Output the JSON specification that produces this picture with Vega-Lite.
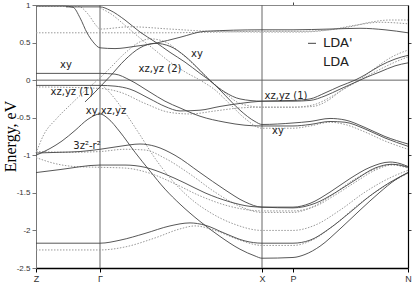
{
 "$schema": "https://vega.github.io/schema/vega-lite/v6.json",
 "width": 372, "height": 263,
 "autosize": {"type": "none"},
 "padding": {"left": 36, "top": 5, "right": 7, "bottom": 16},
 "background": "white",
 "config": {"view": {"stroke": null}, "axis": {"grid": false}},
 "resolve": {"axis": {"x": "independent", "y": "independent"}},
 "datasets": {
  "solid": [
   {"b":"S1","k":0,"E":0.985},{"b":"S1","k":28,"E":0.985},{"b":"S1","k":37,"E":0.97},{"b":"S1","k":44,"E":0.83},{"b":"S1","k":51,"E":0.63},{"b":"S1","k":57,"E":0.51},{"b":"S1","k":64,"E":0.43},{"b":"S1","k":79,"E":0.42},{"b":"S1","k":99,"E":0.45},{"b":"S1","k":119,"E":0.49},{"b":"S1","k":144,"E":0.57},{"b":"S1","k":169,"E":0.65},{"b":"S1","k":226,"E":0.67},{"b":"S1","k":257,"E":0.67},{"b":"S1","k":294,"E":0.68},{"b":"S1","k":324,"E":0.69},{"b":"S1","k":349,"E":0.67},{"b":"S1","k":372,"E":0.63},
   {"b":"S2","k":30,"E":0.975},{"b":"S2","k":64,"E":0.975},{"b":"S2","k":74,"E":0.93},{"b":"S2","k":89,"E":0.8},{"b":"S2","k":104,"E":0.64},{"b":"S2","k":119,"E":0.51},{"b":"S2","k":134,"E":0.37},{"b":"S2","k":149,"E":0.24},{"b":"S2","k":164,"E":0.09},{"b":"S2","k":177,"E":-0.04},{"b":"S2","k":189,"E":-0.2},{"b":"S2","k":204,"E":-0.4},{"b":"S2","k":219,"E":-0.55},{"b":"S2","k":226,"E":-0.59},{"b":"S2","k":257,"E":-0.57},{"b":"S2","k":274,"E":-0.55},{"b":"S2","k":294,"E":-0.51},{"b":"S2","k":309,"E":-0.53},{"b":"S2","k":329,"E":-0.63},{"b":"S2","k":349,"E":-0.75},{"b":"S2","k":372,"E":-0.85},
   {"b":"S3","k":49,"E":-0.29},{"b":"S3","k":56,"E":-0.2},{"b":"S3","k":64,"E":-0.09},{"b":"S3","k":74,"E":0.05},{"b":"S3","k":89,"E":0.27},{"b":"S3","k":104,"E":0.43},{"b":"S3","k":119,"E":0.49},{"b":"S3","k":134,"E":0.45},{"b":"S3","k":149,"E":0.32},{"b":"S3","k":164,"E":0.13},{"b":"S3","k":176,"E":-0.03},{"b":"S3","k":189,"E":-0.16},{"b":"S3","k":204,"E":-0.25},{"b":"S3","k":226,"E":-0.28},{"b":"S3","k":257,"E":-0.28},{"b":"S3","k":274,"E":-0.27},{"b":"S3","k":289,"E":-0.21},{"b":"S3","k":304,"E":-0.12},{"b":"S3","k":319,"E":-0.03},{"b":"S3","k":329,"E":0.03},{"b":"S3","k":344,"E":0.11},{"b":"S3","k":359,"E":0.19},{"b":"S3","k":372,"E":0.23},
   {"b":"S4","k":0,"E":0.09},{"b":"S4","k":64,"E":0.09},{"b":"S4","k":79,"E":0.08},{"b":"S4","k":94,"E":0},{"b":"S4","k":114,"E":-0.16},{"b":"S4","k":129,"E":-0.28},{"b":"S4","k":144,"E":-0.37},{"b":"S4","k":164,"E":-0.48},{"b":"S4","k":189,"E":-0.56},{"b":"S4","k":209,"E":-0.6},{"b":"S4","k":226,"E":-0.61},{"b":"S4","k":257,"E":-0.61},{"b":"S4","k":274,"E":-0.59},{"b":"S4","k":294,"E":-0.55},{"b":"S4","k":309,"E":-0.56},{"b":"S4","k":329,"E":-0.65},{"b":"S4","k":349,"E":-0.77},{"b":"S4","k":372,"E":-0.88},
   {"b":"S5","k":0,"E":-0.07},{"b":"S5","k":24,"E":-0.07},{"b":"S5","k":64,"E":-0.07},{"b":"S5","k":79,"E":-0.08},{"b":"S5","k":94,"E":-0.12},{"b":"S5","k":114,"E":-0.25},{"b":"S5","k":129,"E":-0.35},{"b":"S5","k":144,"E":-0.41},{"b":"S5","k":164,"E":-0.4},{"b":"S5","k":184,"E":-0.35},{"b":"S5","k":204,"E":-0.31},{"b":"S5","k":226,"E":-0.28},{"b":"S5","k":257,"E":-0.27},{"b":"S5","k":274,"E":-0.25},{"b":"S5","k":289,"E":-0.17},{"b":"S5","k":304,"E":-0.08},{"b":"S5","k":319,"E":0},{"b":"S5","k":329,"E":0.07},{"b":"S5","k":344,"E":0.19},{"b":"S5","k":359,"E":0.28},{"b":"S5","k":372,"E":0.33},
   {"b":"S6","k":0,"E":-1.0},{"b":"S6","k":14,"E":-0.91},{"b":"S6","k":26,"E":-0.81},{"b":"S6","k":39,"E":-0.67},{"b":"S6","k":52,"E":-0.52},{"b":"S6","k":64,"E":-0.45},{"b":"S6","k":72,"E":-0.51},{"b":"S6","k":84,"E":-0.69},{"b":"S6","k":99,"E":-0.96},{"b":"S6","k":114,"E":-1.21},{"b":"S6","k":129,"E":-1.45},{"b":"S6","k":144,"E":-1.65},{"b":"S6","k":164,"E":-1.88},{"b":"S6","k":184,"E":-2.08},{"b":"S6","k":204,"E":-2.25},{"b":"S6","k":219,"E":-2.34},{"b":"S6","k":226,"E":-2.37},{"b":"S6","k":257,"E":-2.36},{"b":"S6","k":269,"E":-2.32},{"b":"S6","k":284,"E":-2.21},{"b":"S6","k":304,"E":-1.98},{"b":"S6","k":324,"E":-1.73},{"b":"S6","k":344,"E":-1.49},{"b":"S6","k":359,"E":-1.33},{"b":"S6","k":372,"E":-1.23},
   {"b":"S7","k":0,"E":-0.97},{"b":"S7","k":24,"E":-0.96},{"b":"S7","k":44,"E":-0.95},{"b":"S7","k":64,"E":-0.92},{"b":"S7","k":84,"E":-0.88},{"b":"S7","k":104,"E":-0.85},{"b":"S7","k":119,"E":-0.88},{"b":"S7","k":139,"E":-1.0},{"b":"S7","k":164,"E":-1.23},{"b":"S7","k":189,"E":-1.46},{"b":"S7","k":209,"E":-1.62},{"b":"S7","k":226,"E":-1.69},{"b":"S7","k":257,"E":-1.69},{"b":"S7","k":274,"E":-1.64},{"b":"S7","k":294,"E":-1.49},{"b":"S7","k":314,"E":-1.31},{"b":"S7","k":334,"E":-1.16},{"b":"S7","k":354,"E":-1.09},{"b":"S7","k":364,"E":-1.11},{"b":"S7","k":372,"E":-1.15},
   {"b":"S8","k":0,"E":-1.23},{"b":"S8","k":24,"E":-1.19},{"b":"S8","k":64,"E":-1.13},{"b":"S8","k":89,"E":-1.13},{"b":"S8","k":109,"E":-1.16},{"b":"S8","k":129,"E":-1.25},{"b":"S8","k":149,"E":-1.37},{"b":"S8","k":169,"E":-1.5},{"b":"S8","k":194,"E":-1.62},{"b":"S8","k":214,"E":-1.68},{"b":"S8","k":226,"E":-1.69},{"b":"S8","k":257,"E":-1.7},{"b":"S8","k":279,"E":-1.64},{"b":"S8","k":299,"E":-1.5},{"b":"S8","k":319,"E":-1.33},{"b":"S8","k":339,"E":-1.17},{"b":"S8","k":356,"E":-1.12},{"b":"S8","k":372,"E":-1.16},
   {"b":"S9","k":0,"E":-2.17},{"b":"S9","k":64,"E":-2.17},{"b":"S9","k":84,"E":-2.13},{"b":"S9","k":109,"E":-2.04},{"b":"S9","k":134,"E":-1.94},{"b":"S9","k":154,"E":-1.9},{"b":"S9","k":169,"E":-1.93},{"b":"S9","k":189,"E":-2.04},{"b":"S9","k":209,"E":-2.14},{"b":"S9","k":226,"E":-2.17},{"b":"S9","k":257,"E":-2.17},{"b":"S9","k":274,"E":-2.13},{"b":"S9","k":294,"E":-1.97},{"b":"S9","k":314,"E":-1.76},{"b":"S9","k":334,"E":-1.54},{"b":"S9","k":354,"E":-1.36},{"b":"S9","k":372,"E":-1.23}
  ],
  "dotted": [
   {"b":"D1","k":0,"E":0.63},{"b":"D1","k":64,"E":0.63},{"b":"D1","k":124,"E":0.63},{"b":"D1","k":184,"E":0.64},{"b":"D1","k":226,"E":0.65},{"b":"D1","k":264,"E":0.65},{"b":"D1","k":294,"E":0.67},{"b":"D1","k":314,"E":0.71},{"b":"D1","k":334,"E":0.77},{"b":"D1","k":354,"E":0.8},{"b":"D1","k":372,"E":0.8},
   {"b":"D2","k":0,"E":0.985},{"b":"D2","k":42,"E":0.985},{"b":"D2","k":52,"E":0.88},{"b":"D2","k":60,"E":0.73},{"b":"D2","k":64,"E":0.68},{"b":"D2","k":94,"E":0.71},{"b":"D2","k":134,"E":0.68},{"b":"D2","k":174,"E":0.65},{"b":"D2","k":226,"E":0.64},{"b":"D2","k":264,"E":0.64},{"b":"D2","k":294,"E":0.67},{"b":"D2","k":319,"E":0.73},{"b":"D2","k":344,"E":0.77},{"b":"D2","k":372,"E":0.75},
   {"b":"D3","k":64,"E":0.96},{"b":"D3","k":74,"E":0.89},{"b":"D3","k":89,"E":0.73},{"b":"D3","k":104,"E":0.56},{"b":"D3","k":119,"E":0.4},{"b":"D3","k":134,"E":0.24},{"b":"D3","k":149,"E":0.11},{"b":"D3","k":164,"E":0},{"b":"D3","k":179,"E":-0.13},{"b":"D3","k":194,"E":-0.32},{"b":"D3","k":209,"E":-0.51},{"b":"D3","k":226,"E":-0.64},{"b":"D3","k":257,"E":-0.64},{"b":"D3","k":274,"E":-0.61},{"b":"D3","k":294,"E":-0.56},{"b":"D3","k":309,"E":-0.59},{"b":"D3","k":329,"E":-0.69},{"b":"D3","k":349,"E":-0.81},{"b":"D3","k":372,"E":-0.92},
   {"b":"D4","k":0,"E":-0.97},{"b":"D4","k":8,"E":-0.72},{"b":"D4","k":20,"E":-0.52},{"b":"D4","k":35,"E":-0.32},{"b":"D4","k":50,"E":-0.13},{"b":"D4","k":64,"E":0.03},{"b":"D4","k":74,"E":0.16},{"b":"D4","k":89,"E":0.36},{"b":"D4","k":104,"E":0.51},{"b":"D4","k":114,"E":0.55},{"b":"D4","k":129,"E":0.51},{"b":"D4","k":144,"E":0.37},{"b":"D4","k":159,"E":0.19},{"b":"D4","k":174,"E":0},{"b":"D4","k":189,"E":-0.17},{"b":"D4","k":204,"E":-0.31},{"b":"D4","k":226,"E":-0.36},{"b":"D4","k":257,"E":-0.36},{"b":"D4","k":277,"E":-0.35},{"b":"D4","k":292,"E":-0.27},{"b":"D4","k":306,"E":-0.13},{"b":"D4","k":324,"E":0.01},{"b":"D4","k":339,"E":0.16},{"b":"D4","k":356,"E":0.31},{"b":"D4","k":372,"E":0.4},
   {"b":"D5","k":0,"E":-0.09},{"b":"D5","k":64,"E":-0.11},{"b":"D5","k":84,"E":-0.16},{"b":"D5","k":109,"E":-0.31},{"b":"D5","k":134,"E":-0.43},{"b":"D5","k":154,"E":-0.45},{"b":"D5","k":179,"E":-0.41},{"b":"D5","k":204,"E":-0.37},{"b":"D5","k":226,"E":-0.36},{"b":"D5","k":257,"E":-0.36},{"b":"D5","k":277,"E":-0.33},{"b":"D5","k":294,"E":-0.23},{"b":"D5","k":309,"E":-0.11},{"b":"D5","k":324,"E":0},{"b":"D5","k":342,"E":0.13},{"b":"D5","k":359,"E":0.24},{"b":"D5","k":372,"E":0.31},
   {"b":"D6","k":64,"E":-0.04},{"b":"D6","k":74,"E":-0.17},{"b":"D6","k":89,"E":-0.43},{"b":"D6","k":104,"E":-0.73},{"b":"D6","k":119,"E":-1.04},{"b":"D6","k":134,"E":-1.3},{"b":"D6","k":154,"E":-1.57},{"b":"D6","k":174,"E":-1.76},{"b":"D6","k":199,"E":-1.92},{"b":"D6","k":226,"E":-2.0},{"b":"D6","k":257,"E":-2.0},{"b":"D6","k":279,"E":-1.93},{"b":"D6","k":304,"E":-1.73},{"b":"D6","k":329,"E":-1.49},{"b":"D6","k":354,"E":-1.3},{"b":"D6","k":372,"E":-1.2},
   {"b":"D7","k":0,"E":-0.95},{"b":"D7","k":34,"E":-0.96},{"b":"D7","k":64,"E":-0.95},{"b":"D7","k":89,"E":-0.92},{"b":"D7","k":109,"E":-0.93},{"b":"D7","k":129,"E":-1.04},{"b":"D7","k":154,"E":-1.25},{"b":"D7","k":179,"E":-1.49},{"b":"D7","k":204,"E":-1.68},{"b":"D7","k":226,"E":-1.76},{"b":"D7","k":257,"E":-1.76},{"b":"D7","k":276,"E":-1.69},{"b":"D7","k":296,"E":-1.53},{"b":"D7","k":316,"E":-1.34},{"b":"D7","k":336,"E":-1.2},{"b":"D7","k":356,"E":-1.12},{"b":"D7","k":372,"E":-1.15},
   {"b":"D8","k":0,"E":-1.03},{"b":"D8","k":19,"E":-1.11},{"b":"D8","k":39,"E":-1.15},{"b":"D8","k":64,"E":-1.16},{"b":"D8","k":89,"E":-1.17},{"b":"D8","k":114,"E":-1.24},{"b":"D8","k":139,"E":-1.38},{"b":"D8","k":164,"E":-1.54},{"b":"D8","k":194,"E":-1.68},{"b":"D8","k":226,"E":-1.74},{"b":"D8","k":257,"E":-1.74},{"b":"D8","k":279,"E":-1.68},{"b":"D8","k":299,"E":-1.53},{"b":"D8","k":319,"E":-1.36},{"b":"D8","k":339,"E":-1.2},{"b":"D8","k":356,"E":-1.13},{"b":"D8","k":372,"E":-1.17},
   {"b":"D9","k":0,"E":-2.26},{"b":"D9","k":64,"E":-2.26},{"b":"D9","k":89,"E":-2.22},{"b":"D9","k":119,"E":-2.1},{"b":"D9","k":144,"E":-1.98},{"b":"D9","k":159,"E":-1.94},{"b":"D9","k":179,"E":-2.0},{"b":"D9","k":204,"E":-2.13},{"b":"D9","k":226,"E":-2.2},{"b":"D9","k":257,"E":-2.2},{"b":"D9","k":276,"E":-2.13},{"b":"D9","k":299,"E":-1.92},{"b":"D9","k":322,"E":-1.66},{"b":"D9","k":344,"E":-1.45},{"b":"D9","k":372,"E":-1.24}
  ]
 },
 "layer": [
  {
   "data": {"values": [{"k": 64}, {"k": 226}]},
   "mark": {"type": "rule", "color": "#666", "strokeWidth": 1},
   "encoding": {"x": {"field": "k", "type": "quantitative", "axis": null}}
  },
  {
   "data": {"values": [{"E": 0}]},
   "mark": {"type": "rule", "color": "#666", "strokeWidth": 1},
   "encoding": {"y": {"field": "E", "type": "quantitative", "axis": null}}
  },
  {
   "data": {"name": "dotted"},
   "mark": {"type": "line", "interpolate": "monotone", "strokeWidth": 1, "color": "#999", "strokeDash": [1.5, 1.5]},
   "encoding": {
    "x": {"field": "k", "type": "quantitative", "axis": null},
    "y": {"field": "E", "type": "quantitative", "axis": null},
    "detail": {"field": "b"}
   }
  },
  {
   "data": {"name": "solid"},
   "mark": {"type": "line", "interpolate": "monotone", "strokeWidth": 0.9, "color": "#444"},
   "encoding": {
    "x": {"field": "k", "type": "quantitative",
     "scale": {"domain": [0, 372], "nice": false, "zero": false},
     "axis": {"orient": "bottom", "values": [0, 64, 226, 257, 372], "title": null,
      "labelExpr": "datum.value == 0 ? 'Z' : datum.value == 64 ? 'Γ' : datum.value == 226 ? 'X' : datum.value == 257 ? 'P' : 'N'",
      "domainColor": "#000", "domainWidth": 1.5, "tickColor": "#000", "tickSize": 4,
      "labelFont": "Liberation Sans", "labelFontSize": 9, "labelColor": "#333", "labelPadding": 2, "labelFlush": false}},
    "y": {"field": "E", "type": "quantitative",
     "scale": {"domain": [-2.5, 1], "nice": false, "zero": false},
     "axis": {"orient": "left", "values": [1, 0.5, 0, -0.5, -1, -1.5, -2, -2.5],
      "labelExpr": "datum.value + ''",
      "domainColor": "#777", "tickColor": "#777", "tickSize": 4,
      "labelFont": "Liberation Sans", "labelFontSize": 8, "labelColor": "#333", "labelPadding": 2,
      "title": "Energy, eV", "titleFont": "Liberation Serif", "titleFontSize": 16, "titleFontWeight": "normal", "titleColor": "#000",
      "titleX": -26, "titleY": 131, "titleAngle": -90, "titleAlign": "center", "titleBaseline": "middle"}},
    "detail": {"field": "b"}
   }
  },
  {
   "data": {"values": [
    {"k": 30, "E": 0.2, "s": "xy"},
    {"k": 36, "E": -0.16, "s": "xz,yz (1)"},
    {"k": 70, "E": -0.41, "s": "xy,xz,yz"},
    {"k": 51, "E": -0.87, "s": "3z²-r²"},
    {"k": 124, "E": 0.15, "s": "xz,yz (2)"},
    {"k": 161, "E": 0.35, "s": "xy"},
    {"k": 250, "E": -0.21, "s": "xz,yz (1)"},
    {"k": 242, "E": -0.68, "s": "xy"}
   ]},
   "mark": {"type": "text", "font": "DejaVu Sans", "fontSize": 10, "color": "#222", "align": "center", "baseline": "middle"},
   "encoding": {
    "x": {"field": "k", "type": "quantitative", "axis": null},
    "y": {"field": "E", "type": "quantitative", "axis": null},
    "text": {"field": "s"}
   }
  },
  {
   "data": {"values": [{"k": 272, "k2": 280, "E": 0.49}]},
   "mark": {"type": "rule", "color": "#444", "strokeWidth": 1},
   "encoding": {
    "x": {"field": "k", "type": "quantitative", "axis": null},
    "x2": {"field": "k2"},
    "y": {"field": "E", "type": "quantitative", "axis": null}
   }
  },
  {
   "data": {"values": [{"k": 287, "E": 0.49, "s": "LDA'"}, {"k": 287, "E": 0.24, "s": "LDA"}]},
   "mark": {"type": "text", "font": "DejaVu Sans", "fontSize": 13, "color": "#222", "align": "left", "baseline": "middle"},
   "encoding": {
    "x": {"field": "k", "type": "quantitative", "axis": null},
    "y": {"field": "E", "type": "quantitative", "axis": null},
    "text": {"field": "s"}
   }
  },
  {
   "data": {"values": [{"k": 0, "E": 0}]},
   "mark": {"type": "point", "opacity": 0},
   "encoding": {
    "x": {"field": "k", "type": "quantitative",
     "scale": {"domain": [0, 372], "nice": false, "zero": false},
     "axis": {"orient": "top", "values": [257], "labels": false, "title": null, "domainColor": "#888", "tickColor": "#444", "tickSize": 3}},
    "y": {"field": "E", "type": "quantitative",
     "scale": {"domain": [-2.5, 1], "nice": false, "zero": false},
     "axis": {"orient": "right", "values": [0.5, -0.5, -1, -1.5, -2], "labels": false, "title": null, "domainColor": "#000", "domainWidth": 1.2, "tickColor": "#444", "tickSize": 3}}
   }
  }
 ]
}
